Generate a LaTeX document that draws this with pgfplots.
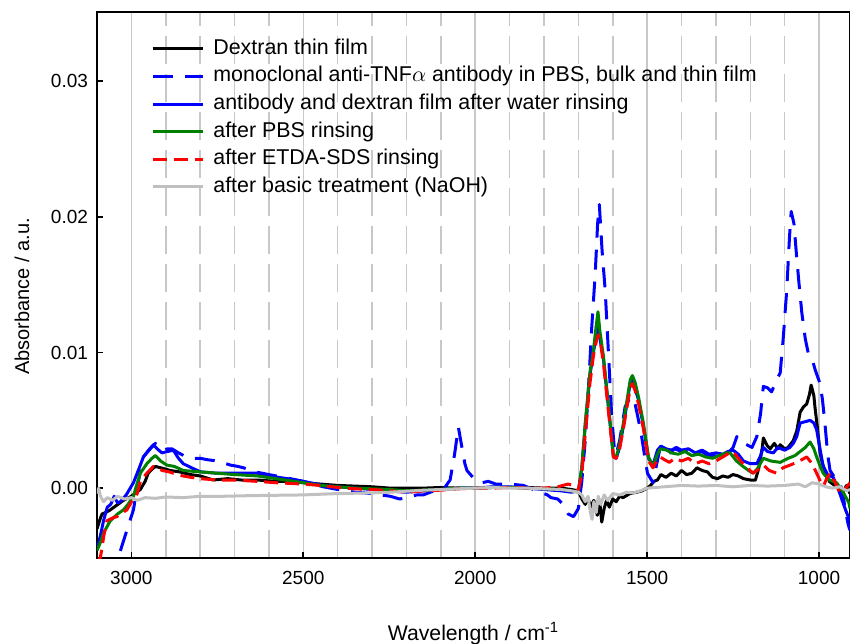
\documentclass[border=0pt]{standalone}
\usepackage{fontspec}
\setmainfont{Liberation Sans}
\usepackage{pgfplots}
\pgfplotsset{compat=1.18}
\usetikzlibrary{calc}
\definecolor{gridgray}{RGB}{200,200,200}
\definecolor{pgreen}{RGB}{0,128,0}
\definecolor{pgray}{RGB}{192,192,192}
\begin{document}
\begin{tikzpicture}
\begin{axis}[name=ax, scale only axis, width=376.5pt, height=273pt,
  x dir=reverse, xmin=910, xmax=3100, ymin=-5.15, ymax=35.1,
  axis line style={line width=0.8pt},
  tick align=inside, major tick length=3pt, minor tick length=0pt,
  xtick pos=bottom, ytick pos=left,
  xtick={1000,1500,2000,2500,3000},
  minor xtick={1100,1200,1300,1400,1600,1700,1800,1900,2100,2200,2300,2400,2600,2700,2800,2900},
  ytick={0,10,20,30}, yticklabels={0.00,0.01,0.02,0.03},
  /pgf/number format/assume math mode=true,
  /pgf/number format/set thousands separator={},
  xticklabel style={font=\fontsize{9.5}{11}\selectfont, yshift=-3pt},
  yticklabel style={font=\fontsize{9.5}{11}\selectfont, xshift=-1pt},
  major tick style={black, line width=0.8pt},
  xmajorgrids, xminorgrids,
  major grid style={gridgray, line width=0.75pt},
  minor grid style={gridgray, line width=0.75pt, dash pattern=on 14pt off 5pt},
  xlabel={Wavelength / cm\textsuperscript{-1}},
  ylabel={Absorbance / a.u.},
  xlabel style={font=\fontsize{10.6}{12}\selectfont, at={(axis description cs:0.5,0)}, anchor=base, yshift=-41pt},
  ylabel style={font=\fontsize{10}{12}\selectfont, at={(axis description cs:-0.0996,0.479)}, anchor=center},
  legend cell align=left,
  legend image code/.code={\draw[#1] (0pt,0pt) -- (25pt,0pt);},
  legend style={at={(axis description cs:0,1)}, anchor=north west, xshift=27pt, yshift=-12pt,
    draw=none, fill=none, font=\fontsize{10.7}{12}\selectfont, row sep=1.3pt,
    inner xsep=0pt, inner ysep=0pt,
    nodes={inner ysep=1pt, text height=8pt, text depth=2.5pt},
    /tikz/every odd column/.append style={column sep=2.5pt}},
  every axis plot/.append style={line width=1.5pt, line join=round},
]
% Dextran thin film
\addplot[black] table[row sep=\\] {x y\\
3100 -3.0\\ 3090 -2.2\\ 3085 -1.9\\ 3075 -1.8\\ 3061 -1.6\\ 3045 -1.3\\ 3023 -0.9\\ 3000 -0.6\\ 2985 -0.3\\ 2974 -0.1\\
2960 0.5\\ 2951 1.1\\ 2940 1.4\\ 2930 1.6\\ 2915 1.5\\ 2900 1.4\\ 2887 1.3\\ 2860 1.2\\ 2828 1.0\\ 2800 0.9\\
2762 0.6\\ 2720 0.7\\ 2680 0.6\\ 2634 0.6\\ 2580 0.5\\ 2540 0.5\\ 2500 0.4\\ 2450 0.3\\ 2400 0.2\\ 2350 0.15\\
2300 0.1\\ 2247 0.0\\ 2200 0.0\\ 2150 0.0\\ 2100 0.05\\ 2050 0.0\\ 2000 0.0\\ 1950 0.05\\ 1900 0.05\\ 1850 0.05\\
1800 0.0\\ 1750 0.0\\ 1720 -0.1\\ 1700 -0.2\\ 1690 -0.8\\ 1680 -1.2\\ 1672 -0.7\\ 1665 -1.4\\ 1655 -0.9\\ 1645 -2.0\\
1638 -1.0\\ 1632 -2.5\\ 1625 -1.5\\ 1618 -0.9\\ 1610 -1.4\\ 1600 -0.8\\ 1590 -1.0\\ 1580 -0.6\\ 1570 -0.7\\ 1550 -0.4\\
1530 -0.3\\ 1515 -0.2\\ 1500 0.0\\ 1490 0.2\\ 1480 0.5\\ 1470 0.6\\ 1460 1.0\\ 1445 0.8\\ 1430 1.1\\ 1415 0.9\\
1400 1.3\\ 1385 1.0\\ 1370 1.1\\ 1355 1.5\\ 1340 1.3\\ 1325 1.2\\ 1310 0.8\\ 1295 0.7\\ 1280 0.9\\ 1265 0.8\\
1250 1.0\\ 1235 0.9\\ 1220 0.7\\ 1200 0.6\\ 1185 0.6\\ 1175 1.5\\ 1165 3.0\\ 1162 3.7\\ 1150 3.1\\ 1142 2.9\\
1130 3.3\\ 1120 2.9\\ 1113 3.2\\ 1100 2.9\\ 1090 3.0\\ 1075 3.5\\ 1065 4.2\\ 1055 5.6\\ 1045 6.0\\ 1036 6.2\\
1028 6.9\\ 1023 7.6\\ 1015 6.8\\ 1012 6.0\\ 1005 4.5\\ 997 2.6\\ 990 1.8\\ 983 1.3\\ 970 0.5\\ 960 0.3\\
945 0.0\\ 930 -0.3\\ 920 0.2\\ 910 -0.4\\
};
\addlegendentry{Dextran thin film}
% antibody bulk
\addplot[blue, dash pattern=on 10pt off 6pt] table[row sep=\\] {x y\\
3100 -9\\ 3060 -7\\ 3038 -5.1\\ 3013 -3.1\\ 2994 -1.6\\ 2983 0.1\\ 2965 2.3\\ 2945 2.9\\ 2930 3.3\\ 2918 2.9\\
2907 2.8\\ 2895 2.9\\ 2882 2.9\\ 2863 2.6\\ 2840 2.3\\ 2820 2.2\\ 2800 2.2\\ 2780 2.1\\ 2750 2.0\\ 2712 1.7\\
2690 1.6\\ 2674 1.5\\ 2640 1.2\\ 2600 1.0\\ 2538 0.7\\ 2500 0.5\\ 2442 0.1\\ 2400 -0.1\\ 2350 -0.3\\ 2300 -0.4\\
2247 -0.6\\ 2220 -0.8\\ 2199 -0.7\\ 2170 -0.5\\ 2151 -0.5\\ 2120 -0.2\\ 2090 0.0\\ 2073 0.6\\ 2060 2.5\\ 2049 4.5\\
2040 3.2\\ 2030 1.8\\ 2024 1.3\\ 2000 0.6\\ 1980 0.4\\ 1962 0.5\\ 1940 0.3\\ 1900 0.3\\ 1860 0.2\\ 1820 -0.2\\
1790 -0.5\\ 1780 -0.7\\ 1760 -0.8\\ 1748 -1.1\\ 1730 -1.9\\ 1714 -2.1\\ 1700 -1.5\\ 1690 0.5\\ 1680 3.5\\ 1671 7.2\\
1661 11.9\\ 1651 15.8\\ 1644 19.5\\ 1639 20.9\\ 1631 17.5\\ 1622 14.6\\ 1612 9.7\\ 1603 5.3\\ 1595 2.8\\ 1590 2.5\\
1580 3.5\\ 1564 6.0\\ 1549 6.7\\ 1540 6.6\\ 1535 6.2\\ 1525 5.0\\ 1516 3.8\\ 1505 2.0\\ 1499 1.1\\ 1483 0.4\\
1472 1.8\\ 1462 3.0\\ 1450 2.8\\ 1433 2.6\\ 1420 2.9\\ 1400 2.7\\ 1380 2.8\\ 1360 2.5\\ 1340 2.7\\ 1320 2.3\\
1300 2.5\\ 1280 2.6\\ 1260 2.7\\ 1250 3.0\\ 1239 3.8\\ 1228 3.4\\ 1210 3.2\\ 1195 3.0\\ 1181 3.8\\ 1170 5.5\\
1162 7.5\\ 1150 7.4\\ 1138 7.1\\ 1125 7.9\\ 1113 8.5\\ 1104 11.1\\ 1094 14.6\\ 1086 18.5\\ 1081 20.4\\ 1073 19.5\\
1065 17.0\\ 1058 15.0\\ 1050 12.9\\ 1040 11.0\\ 1031 9.9\\ 1020 9.5\\ 1011 8.7\\ 997 7.7\\ 990 6.5\\ 983 4.8\\
975 2.5\\ 968 1.3\\ 955 0.8\\ 939 0.4\\ 930 -0.5\\ 924 -1.6\\ 915 -2.7\\ 910 -3.1\\
};
\addlegendentry{monoclonal anti-TNF$\alpha$ antibody in PBS, bulk and thin film}
% antibody and dextran after water
\addplot[blue] table[row sep=\\] {x y\\
3100 -4.5\\ 3090 -3.5\\ 3081 -2.4\\ 3070 -1.4\\ 3060 -1.2\\ 3050 -0.6\\ 3040 -1.1\\ 3032 -1.0\\ 3015 -0.5\\ 2994 0.4\\
2980 1.3\\ 2965 2.3\\ 2950 2.8\\ 2936 3.2\\ 2925 2.9\\ 2911 2.6\\ 2895 2.7\\ 2878 2.8\\ 2863 2.2\\ 2849 1.8\\
2825 1.5\\ 2799 1.2\\ 2751 1.1\\ 2700 1.1\\ 2634 1.1\\ 2600 0.9\\ 2547 0.7\\ 2500 0.5\\ 2442 0.2\\ 2400 0.1\\
2350 0.0\\ 2297 -0.1\\ 2250 -0.2\\ 2200 -0.3\\ 2150 -0.2\\ 2100 -0.1\\ 2050 0.0\\ 2000 0.0\\ 1950 0.1\\ 1900 0.1\\
1850 0.0\\ 1800 -0.1\\ 1750 -0.2\\ 1720 -0.3\\ 1700 -0.2\\ 1690 1.5\\ 1680 4.6\\ 1666 8.4\\ 1656 10.0\\ 1648 11.5\\
1643 12.2\\ 1637 11.0\\ 1627 9.5\\ 1612 5.8\\ 1598 2.3\\ 1590 2.2\\ 1580 3.0\\ 1569 4.6\\ 1549 7.8\\ 1543 8.0\\
1525 6.5\\ 1511 4.6\\ 1496 2.2\\ 1483 1.7\\ 1470 2.8\\ 1460 3.1\\ 1445 2.9\\ 1430 2.8\\ 1415 3.0\\ 1400 2.8\\
1380 2.9\\ 1360 2.6\\ 1340 2.8\\ 1320 2.5\\ 1300 2.6\\ 1280 2.5\\ 1265 2.7\\ 1250 2.8\\ 1235 2.5\\ 1220 2.0\\
1200 1.8\\ 1181 1.8\\ 1170 2.4\\ 1162 3.0\\ 1150 2.7\\ 1133 2.6\\ 1120 3.0\\ 1100 2.8\\ 1085 3.0\\ 1075 3.3\\
1065 3.8\\ 1055 4.8\\ 1040 4.9\\ 1026 5.0\\ 1015 4.8\\ 1007 4.3\\ 998 3.0\\ 988 1.6\\ 975 1.0\\ 959 0.8\\
945 0.0\\ 930 -1.1\\ 920 -1.8\\ 910 -2.4\\
};
\addlegendentry{antibody and dextran film after water rinsing}
% after PBS
\addplot[pgreen] table[row sep=\\] {x y\\
3100 -4.6\\ 3090 -4.0\\ 3081 -3.3\\ 3070 -2.8\\ 3061 -2.4\\ 3040 -1.9\\ 3023 -1.6\\ 3010 -1.2\\ 2994 -0.6\\ 2985 0.2\\
2974 1.1\\ 2955 1.8\\ 2940 2.2\\ 2930 2.4\\ 2915 2.0\\ 2897 1.7\\ 2875 1.6\\ 2849 1.3\\ 2800 1.2\\ 2751 1.1\\
2700 1.0\\ 2634 0.9\\ 2580 0.7\\ 2500 0.4\\ 2450 0.2\\ 2400 0.1\\ 2350 0.0\\ 2300 -0.05\\ 2247 -0.1\\ 2200 -0.2\\
2150 -0.15\\ 2100 -0.1\\ 2050 0.0\\ 2000 0.0\\ 1950 0.05\\ 1900 0.05\\ 1850 0.0\\ 1800 -0.05\\ 1750 -0.1\\ 1720 -0.2\\
1700 -0.3\\ 1690 1.5\\ 1680 4.8\\ 1666 8.6\\ 1656 10.2\\ 1648 12.0\\ 1643 13.0\\ 1637 11.5\\ 1627 9.7\\ 1612 6.0\\
1598 2.3\\ 1590 2.3\\ 1580 3.2\\ 1569 4.8\\ 1549 8.0\\ 1543 8.3\\ 1535 7.8\\ 1525 6.7\\ 1511 4.8\\ 1496 2.3\\
1483 1.6\\ 1472 2.4\\ 1462 2.9\\ 1443 2.8\\ 1430 2.6\\ 1410 2.5\\ 1390 2.7\\ 1370 2.4\\ 1350 2.5\\ 1330 2.3\\
1310 2.2\\ 1290 2.4\\ 1270 2.6\\ 1259 2.6\\ 1240 2.0\\ 1221 1.6\\ 1205 1.3\\ 1192 1.1\\ 1180 1.4\\ 1162 2.2\\
1140 2.0\\ 1113 1.9\\ 1090 2.2\\ 1070 2.4\\ 1055 2.7\\ 1040 3.0\\ 1026 3.4\\ 1015 2.9\\ 1007 2.3\\ 998 1.7\\
988 1.1\\ 970 0.6\\ 949 0.4\\ 930 -0.3\\ 913 -1.1\\ 910 -1.5\\
};
\addlegendentry{after PBS rinsing}
% after ETDA-SDS
\addplot[red, dash pattern=on 7pt off 3.5pt] table[row sep=\\] {x y\\
3100 -5.5\\ 3090 -5.1\\ 3080 -3.5\\ 3071 -2.4\\ 3055 -2.2\\ 3042 -2.1\\ 3025 -1.8\\ 3013 -1.6\\ 2995 -0.8\\ 2983 -0.4\\
2974 0.5\\ 2955 1.1\\ 2936 1.6\\ 2925 1.5\\ 2910 1.3\\ 2890 1.2\\ 2878 1.1\\ 2850 0.9\\ 2828 0.8\\ 2800 0.7\\
2751 0.6\\ 2700 0.6\\ 2634 0.5\\ 2580 0.4\\ 2500 0.3\\ 2450 0.2\\ 2400 0.05\\ 2350 -0.05\\ 2300 -0.1\\ 2247 -0.2\\
2200 -0.3\\ 2150 -0.2\\ 2100 -0.15\\ 2050 -0.05\\ 2000 0.0\\ 1950 0.0\\ 1900 0.05\\ 1850 0.0\\ 1800 0.0\\ 1760 0.1\\
1730 0.3\\ 1715 0.2\\ 1700 -0.1\\ 1690 1.0\\ 1680 4.0\\ 1666 7.8\\ 1656 9.8\\ 1648 10.8\\ 1642 11.3\\ 1635 10.6\\
1627 9.2\\ 1612 5.5\\ 1598 2.3\\ 1590 2.2\\ 1580 2.9\\ 1569 4.4\\ 1549 7.4\\ 1543 7.7\\ 1535 7.2\\ 1525 6.2\\
1511 4.4\\ 1496 2.0\\ 1483 1.5\\ 1472 2.0\\ 1462 2.3\\ 1450 2.1\\ 1435 1.9\\ 1420 2.2\\ 1400 2.0\\ 1380 2.2\\
1360 1.8\\ 1340 2.0\\ 1320 1.8\\ 1300 2.0\\ 1280 2.3\\ 1260 2.6\\ 1250 2.7\\ 1235 2.2\\ 1221 1.8\\ 1205 1.4\\
1192 1.1\\ 1175 1.4\\ 1162 1.7\\ 1145 1.3\\ 1123 1.1\\ 1105 1.5\\ 1084 1.7\\ 1065 1.9\\ 1050 2.1\\ 1036 2.3\\
1020 1.8\\ 1007 1.1\\ 998 0.6\\ 988 0.1\\ 978 0.7\\ 968 1.1\\ 955 0.5\\ 940 -0.3\\ 925 -0.1\\ 910 0.4\\
};
\addlegendentry{after ETDA-SDS rinsing}
% after NaOH
\addplot[pgray] table[row sep=\\] {x y\\
3100 -0.4\\ 3095 0.0\\ 3090 -0.6\\ 3081 -1.0\\ 3070 -0.7\\ 3055 -0.9\\ 3040 -0.6\\ 3020 -0.8\\ 3000 -0.7\\ 2983 -0.9\\
2960 -0.7\\ 2930 -0.75\\ 2900 -0.65\\ 2850 -0.7\\ 2800 -0.6\\ 2733 -0.6\\ 2650 -0.55\\ 2500 -0.5\\ 2400 -0.4\\ 2300 -0.35\\
2247 -0.3\\ 2150 -0.15\\ 2050 -0.05\\ 2000 0.0\\ 1950 0.05\\ 1900 0.0\\ 1850 0.0\\ 1800 -0.05\\ 1750 -0.1\\ 1720 -0.2\\
1700 -0.3\\ 1690 -0.5\\ 1680 -1.0\\ 1672 -0.6\\ 1665 -1.8\\ 1660 -2.3\\ 1655 -1.0\\ 1648 -1.8\\ 1642 -0.6\\ 1635 -1.2\\
1625 -0.5\\ 1615 -0.9\\ 1600 -0.4\\ 1580 -0.5\\ 1560 -0.3\\ 1540 -0.35\\ 1520 -0.2\\ 1500 0.0\\ 1450 0.1\\ 1400 0.2\\
1350 0.15\\ 1300 0.2\\ 1250 0.1\\ 1200 0.2\\ 1150 0.15\\ 1100 0.2\\ 1060 0.3\\ 1040 0.1\\ 1020 0.4\\ 1000 0.3\\
980 0.1\\ 960 0.0\\ 940 0.1\\ 920 -0.2\\ 910 -0.1\\
};
\addlegendentry{after basic treatment (NaOH)}
\end{axis}
\pgfresetboundingbox
\path ($(ax.south west)+(-48.5pt,-42.5pt)$) rectangle ($(ax.north east)+(0pt,6pt)$);
\end{tikzpicture}
\end{document}
